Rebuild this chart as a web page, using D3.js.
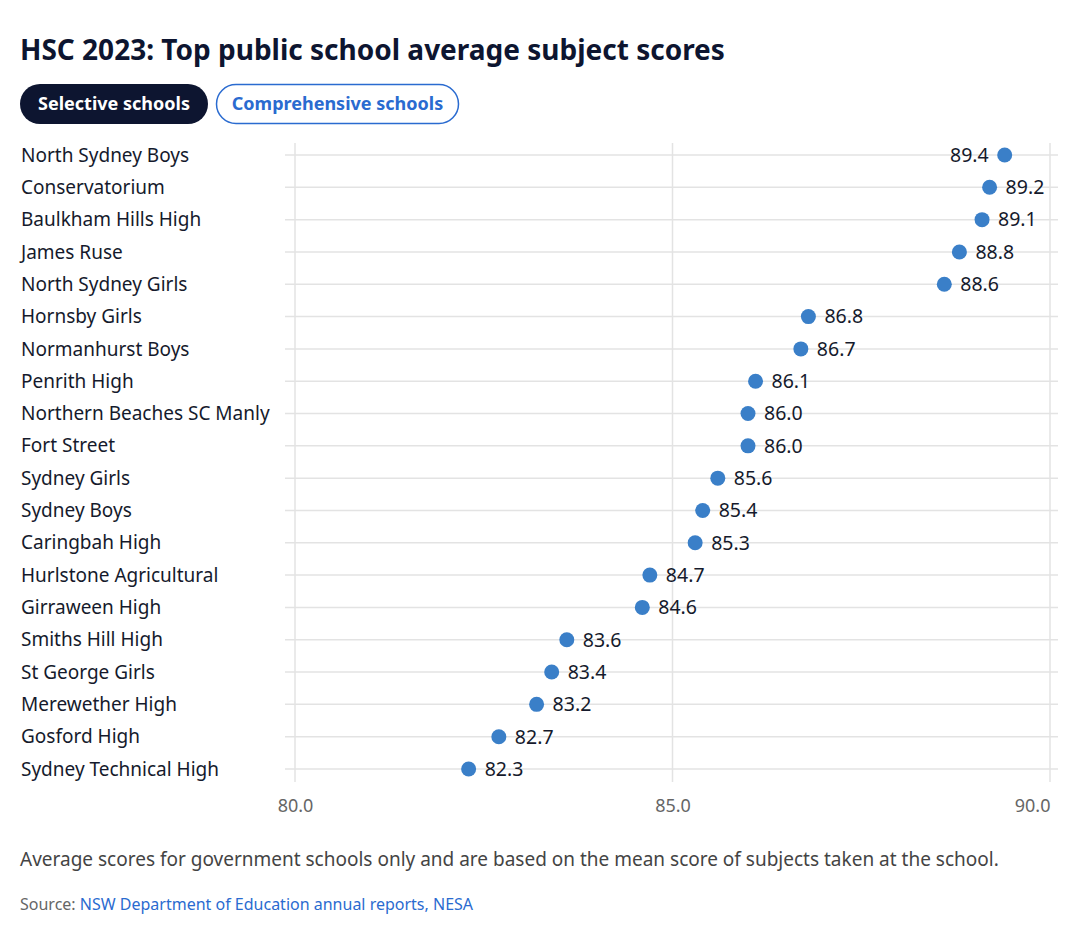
<!DOCTYPE html>
<html><head><meta charset="utf-8">
<script src="https://cdn.jsdelivr.net/npm/d3@7"></script>
<style>
body{margin:0;background:#fff;}
svg{display:block;font-family:"Noto Sans",sans-serif;}
</style></head>
<body>
<svg id="chart" width="1080" height="930"></svg>
<script>
const schools = ["North Sydney Boys","Conservatorium","Baulkham Hills High","James Ruse","North Sydney Girls","Hornsby Girls","Normanhurst Boys","Penrith High","Northern Beaches SC Manly","Fort Street","Sydney Girls","Sydney Boys","Caringbah High","Hurlstone Agricultural","Girraween High","Smiths Hill High","St George Girls","Merewether High","Gosford High","Sydney Technical High"];
const scores = [89.4,89.2,89.1,88.8,88.6,86.8,86.7,86.1,86.0,86.0,85.6,85.4,85.3,84.7,84.6,83.6,83.4,83.2,82.7,82.3];
const xTicks = [80,85,90];
const buttons = ["Selective schools","Comprehensive schools"];
const titleText = "HSC 2023: Top public school average subject scores";
const noteText = "Average scores for government schools only and are based on the mean score of subjects taken at the school.";
const sourceLabel = "Source: ";
const sourceLink = "NSW Department of Education annual reports, NESA";

const svg = d3.select("#chart");
const x = d3.scaleLinear().domain([80,90]).range([295,1050]);
const y = d3.scalePoint().domain(schools).range([155,769]);

svg.append("text").attr("x",20).attr("y",60).attr("font-size",28).attr("font-weight",700)
  .attr("fill","#0d1530").text(titleText);

// buttons
const b1 = svg.append("g");
b1.append("rect").attr("x",20).attr("y",84).attr("width",188).attr("height",40).attr("rx",20).attr("fill","#0d1530");
b1.append("text").attr("x",114).attr("y",110).attr("text-anchor","middle").attr("font-size",18).attr("font-weight",700).attr("fill","#fff").text(buttons[0]);
const b2 = svg.append("g");
b2.append("rect").attr("x",216.5).attr("y",84.5).attr("width",242).attr("height",39).attr("rx",19.5).attr("fill","#fff").attr("stroke","#2a6bd0").attr("stroke-width",1.5);
b2.append("text").attr("x",337.5).attr("y",110).attr("text-anchor","middle").attr("font-size",18).attr("font-weight",700).attr("fill","#2a6bd0").text(buttons[1]);

// vertical grid
svg.append("g").selectAll("line").data(xTicks).join("line")
  .attr("x1",d=>x(d)).attr("x2",d=>x(d)).attr("y1",143).attr("y2",782)
  .attr("stroke","#e3e3e3").attr("stroke-width",1.5);
// horizontal grid
svg.append("g").selectAll("line").data(schools).join("line")
  .attr("x1",285).attr("x2",1058).attr("y1",d=>y(d)).attr("y2",d=>y(d))
  .attr("stroke","#e3e3e3").attr("stroke-width",1.5);

// x axis
const xAxis = d3.axisBottom(x).tickValues(xTicks).tickFormat(d3.format(".1f")).tickSize(0).tickPadding(0);
const ax = svg.append("g").attr("transform","translate(0,812)").call(xAxis);
ax.select(".domain").remove();
ax.selectAll("text").attr("font-size",18).attr("fill","#666").attr("font-family","Noto Sans, sans-serif").attr("dy",0);
ax.selectAll(".tick").filter(d=>d===90).select("text").attr("text-anchor","end").attr("x",0);

// row labels
svg.append("g").selectAll("text").data(schools).join("text")
  .attr("x",21).attr("y",d=>y(d)).attr("dy","0.35em").attr("font-size",19).attr("fill","#151a2c")
  .text(d=>d);

// dots
const rows = schools.map((s,i)=>({s,v:scores[i]}));
svg.append("g").selectAll("circle").data(rows).join("circle")
  .attr("cx",d=>x(d.v)).attr("cy",d=>y(d.s)).attr("r",7.5).attr("fill","#3a7fc8");
svg.append("g").selectAll("text").data(rows).join("text")
  .attr("x",(d,i)=> i===0 ? x(d.v)-16 : x(d.v)+16)
  .attr("text-anchor",(d,i)=> i===0 ? "end" : "start")
  .attr("y",d=>y(d.s)).attr("dy","0.35em").attr("font-size",19.5).attr("fill","#151a2c")
  .text(d=>d3.format(".1f")(d.v));

// footer
svg.append("text").attr("x",20).attr("y",866).attr("font-size",19).attr("fill","#444").text(noteText);
const src = svg.append("text").attr("x",20).attr("y",910).attr("font-size",16).attr("fill","#666");
src.append("tspan").attr("fill","#666").text(sourceLabel);
src.append("tspan").attr("fill","#2a6bd0").text(sourceLink);
</script>
</body></html>
